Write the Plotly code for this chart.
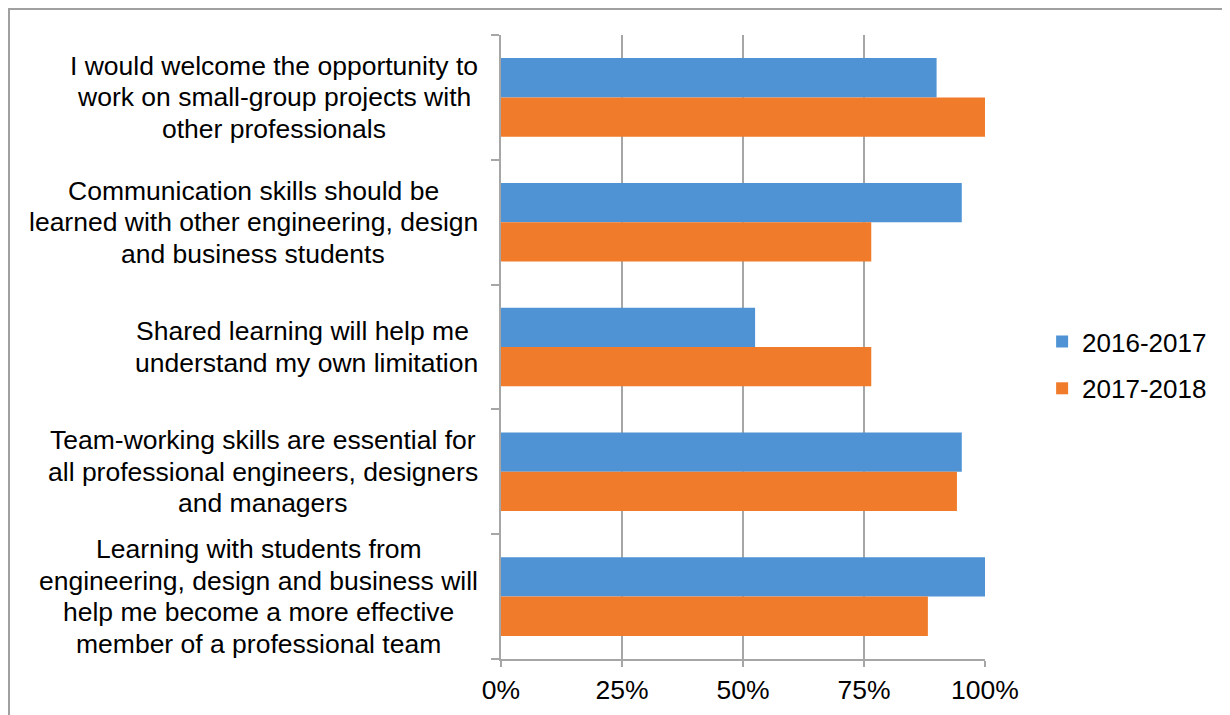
import plotly.graph_objects as go

categories = [
    ["I would welcome the opportunity to", "work on small-group projects with", "other professionals"],
    ["Communication skills should be", "learned with other engineering, design", "and business students"],
    ["Shared learning will help me ", "understand my own limitation"],
    ["Team-working skills are essential for", "all professional engineers, designers", "and managers"],
    ["Learning with students from", "engineering, design and business will",
     "help me become a more effective", "member of a professional team"],
]
series_names = ["2016-2017", "2017-2018"]
values_2016_2017 = [0.90, 0.952, 0.525, 0.952, 1.00]
values_2017_2018 = [1.00, 0.765, 0.765, 0.942, 0.882]
x_tick_vals = [0, 0.25, 0.5, 0.75, 1.0]
x_tick_text = ["0%", "25%", "50%", "75%", "100%"]

FONT = "Liberation Sans, Arial, sans-serif"
BLUE = "#4F93D5"
ORANGE = "#F07B2A"
LABEL_SIZE = 26.5
LINE_GAP = 31.5  # px between label lines
LABEL_PAD = 23   # px between label block and axis

# Arial / Liberation Sans advance widths (per 1000 em) for measuring label lines
ARIAL_W = {
    " ": 278, ",": 278, "-": 333,
    "a": 556, "b": 556, "c": 500, "d": 556, "e": 556, "f": 278, "g": 556,
    "h": 556, "i": 222, "j": 222, "k": 500, "l": 222, "m": 833, "n": 556,
    "o": 556, "p": 556, "q": 556, "r": 333, "s": 500, "t": 278, "u": 556,
    "v": 500, "w": 722, "x": 500, "y": 500, "z": 500,
    "C": 722, "I": 278, "L": 556, "S": 667, "T": 611,
}


def text_width(s, size):
    return sum(ARIAL_W.get(ch, 556) for ch in s) * size / 1000.0


idx = list(range(len(categories)))

fig = go.Figure()
for name, vals, col in [(series_names[0], values_2016_2017, BLUE),
                        (series_names[1], values_2017_2018, ORANGE)]:
    fig.add_trace(go.Bar(
        x=vals, y=idx, orientation="h", name=name,
        marker=dict(color=col, line=dict(width=0)),
        legendgroup=name,
    ))

# category labels: each line centred within its block, block right-aligned at the axis
for i, lines in enumerate(categories):
    n = len(lines)
    block_w = max(text_width(ln, LABEL_SIZE) for ln in lines)
    for j, ln in enumerate(lines):
        fig.add_annotation(
            x=0, xref="paper", y=i, yref="y",
            text=ln, showarrow=False,
            xanchor="center", yanchor="middle", align="center",
            xshift=-(LABEL_PAD + block_w / 2),
            yshift=-(j - (n - 1) / 2) * LINE_GAP,
            font=dict(family=FONT, size=LABEL_SIZE, color="#000000"),
        )

# outer chart border
fig.add_shape(type="rect", xref="paper", yref="paper",
              x0=-1.0165, x1=1.6, y0=-0.2, y1=1.0415,
              line=dict(color="#A0A0A0", width=2), fillcolor="rgba(0,0,0,0)",
              layer="below")

fig.update_layout(
    width=1230, height=715,
    margin=dict(l=493, r=253, t=27, b=64),
    paper_bgcolor="white", plot_bgcolor="white",
    barmode="group", bargap=0.37, bargroupgap=0,
    font=dict(family=FONT, size=26, color="#000000"),
    xaxis=dict(range=[0, 1], tickvals=x_tick_vals, ticktext=x_tick_text,
               showgrid=True, gridcolor="#A6A6A6", gridwidth=2,
               zeroline=False, showline=True, linecolor="#A6A6A6", linewidth=2,
               ticks="outside", ticklen=6, tickcolor="#A6A6A6", tickwidth=2,
               tickfont=dict(family=FONT, size=26.5, color="#000000")),
    yaxis=dict(range=[len(categories) - 0.5, -0.5],
               tickvals=[k - 0.5 for k in range(len(categories) + 1)],
               showticklabels=False, showgrid=False, zeroline=False,
               showline=True, linecolor="#A6A6A6", linewidth=2,
               ticks="outside", ticklen=8, tickcolor="#A6A6A6", tickwidth=2),
    legend=dict(x=1.118, xanchor="left", y=0.471, yanchor="middle",
                traceorder="grouped", tracegroupgap=10,
                font=dict(family=FONT, size=26, color="#000000"),
                bgcolor="rgba(0,0,0,0)"),
    showlegend=True,
)

fig.write_html("out.html")
